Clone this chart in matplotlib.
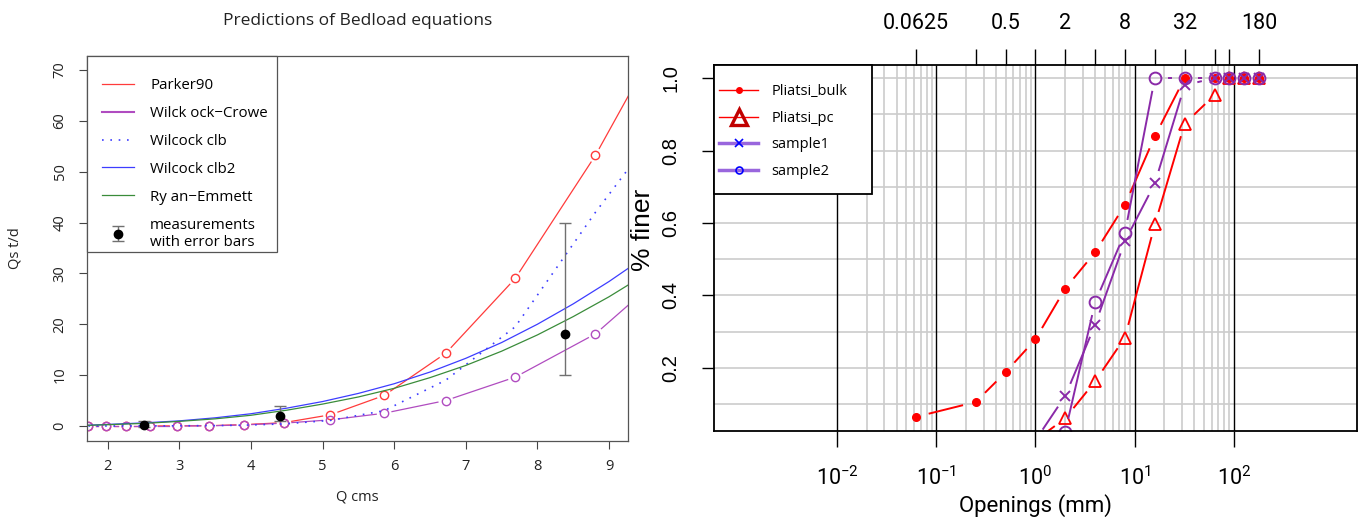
import numpy as np
import matplotlib
matplotlib.use("Agg")
import matplotlib.pyplot as plt
from matplotlib.lines import Line2D
from matplotlib.patches import Rectangle

plt.rcParams["font.family"] = ["Open Sans", "DejaVu Sans"]
plt.rcParams["mathtext.default"] = "regular"

# ---- left panel: bedload predictions ----
q_pts = [1.73, 1.98, 2.26, 2.59, 2.97, 3.41, 3.90, 4.46, 5.11, 5.86, 6.72, 7.69, 8.81, 10.1]
parker90 = [0, 0, 0, 0, 0.02, 0.05, 0.26, 0.65, 2.2, 6.0, 14.3, 29.0, 53.2, 86]
wilcock_crowe = [0, 0, 0, 0, 0, 0.02, 0.2, 0.55, 1.2, 2.5, 5.0, 9.6, 18.1, 34]
wilcock_clb = [0, 0, 0, 0.01, 0.03, 0.06, 0.15, 0.4, 1.1, 3.0, 9.0, 19.5, 42, 66]

q_fine = [1.73, 2.0, 2.5, 3.0, 3.5, 4.0, 4.5, 5.0, 5.5, 6.0, 6.5, 7.0, 7.5, 8.0, 8.5, 9.0, 9.3]
wilcock_clb2 = [0.15, 0.3, 0.6, 1.0, 1.6, 2.4, 3.5, 4.8, 6.4, 8.3, 10.6, 13.3, 16.4, 20.0, 24.0, 28.4, 31.3]
ryan_emmett = [0.12, 0.25, 0.5, 0.9, 1.4, 2.1, 3.1, 4.3, 5.7, 7.4, 9.5, 11.9, 14.7, 17.9, 21.5, 25.4, 28.0]

meas_q = [2.5, 4.4, 8.39]
meas_qs = [0.25, 2.0, 18.0]
meas_lo = [-0.3, 1.0, 10.0]
meas_hi = [1.0, 4.0, 40.0]

# ---- right panel: grain size distributions ----
sizes = [0.0625, 0.25, 0.5, 1, 2, 4, 8, 16, 32, 64, 90, 128, 180]
pliatsi_bulk = [0.065, 0.106, 0.188, 0.279, 0.419, 0.519, 0.650, 0.839, 1.0, 1.0, 1.0, 1.0, 1.0]
sizes_pc = [1, 2, 4, 8, 16, 32, 64, 90, 128, 180]
pliatsi_pc = [0.0, 0.061, 0.163, 0.284, 0.596, 0.874, 0.953, 1.0, 1.0, 1.0]
sizes_s1 = [1, 2, 4, 8, 16, 32, 64, 90, 128, 180]
sample1 = [0.0, 0.123, 0.319, 0.55, 0.709, 0.98, 1.0, 1.0, 1.0, 1.0]
sizes_s2 = [2, 4, 8, 16, 32, 64, 90, 128, 180]
sample2 = [0.024, 0.381, 0.573, 1.0, 1.0, 1.0, 1.0, 1.0, 1.0]

top_ticks = [0.0625, 0.25, 0.5, 1, 2, 4, 8, 16, 32, 64, 90, 180]
top_labels = ["0.0625", "", "0.5", "", "2", "", "8", "", "32", "", "", "180"]

RED = "#ff3b3b"
ORCHID = "#b04cc0"
BLUE = "#3d3dff"
GREEN = "#3a8c3a"
PURPLE = "#8a2aa8"
NARROW = ["Roboto", "DejaVu Sans"]
HELV = ["Liberation Sans", "DejaVu Sans"]


def gapped_line(ax, xs, ys, gap, **kw):
    """R type='b': line segments that stop short of each point."""
    pts = ax.transData.transform(np.column_stack([xs, ys]))
    inv = ax.transData.inverted()
    for (x0, y0), (x1, y1) in zip(pts[:-1], pts[1:]):
        d = np.hypot(x1 - x0, y1 - y0)
        if d <= 2 * gap:
            continue
        ux, uy = (x1 - x0) / d, (y1 - y0) / d
        seg = inv.transform([[x0 + ux * gap, y0 + uy * gap],
                             [x1 - ux * gap, y1 - uy * gap]])
        ax.plot(seg[:, 0], seg[:, 1], **kw)


W, H = 1363, 517
fig = plt.figure(figsize=(W / 100, H / 100), dpi=100)

# ================= left =================
L0, L1, T0, B0 = 87, 628, 55.7, 440.7
ax = fig.add_axes([L0 / W, 1 - B0 / H, (L1 - L0) / W, (B0 - T0) / H])
ax.set_xlim(1.71, 9.265)
ax.set_ylim(-2.9, 72.8)

gapped_line(ax, q_pts, parker90, 8, color=RED, lw=0.9)
ax.plot(q_pts, parker90, "o", ms=6, mfc="none", mec=RED, mew=1)
gapped_line(ax, q_pts, wilcock_crowe, 8, color=ORCHID, lw=0.9)
ax.plot(q_pts, wilcock_crowe, "o", ms=6, mfc="none", mec=ORCHID, mew=1)
ax.plot(q_pts, wilcock_clb, color=BLUE, lw=1.2, ls=(0, (1, 4)))
ax.plot(q_fine, wilcock_clb2, color=BLUE, lw=0.9)
ax.plot(q_fine, ryan_emmett, color=GREEN, lw=0.9)
yerr = [np.subtract(meas_qs, meas_lo), np.subtract(meas_hi, meas_qs)]
eb = ax.errorbar(meas_q, meas_qs, yerr=yerr, fmt="o", color="black", ms=6,
                 ecolor="#707070", elinewidth=1, capsize=4, capthick=1)

ax.set_xticks([2, 3, 4, 5, 6, 7, 8, 9])
ax.set_yticks([0, 10, 20, 30, 40, 50, 60, 70])
ax.tick_params(axis="both", labelsize=10.5, length=6, width=0.8, color="#444444",
               labelcolor="#222222")
ax.tick_params(axis="x", pad=7)
ax.tick_params(axis="y", pad=8, labelrotation=90)
for lbl in ax.get_yticklabels():
    lbl.set_va("center")
for s in ax.spines.values():
    s.set_color("#555555")
    s.set_linewidth(0.9)
ax.set_title("Predictions of Bedload equations", fontsize=12.5, pad=22, color="#222222")
ax.set_xlabel("Q cms", fontsize=10.5, color="#222222")
ax.xaxis.set_label_coords(0.5, -(497 - B0) / (B0 - T0))
ax.xaxis.label.set_va("center")
ax.set_ylabel("Qs t/d", fontsize=10.5, color="#222222")
ax.yaxis.set_label_coords((15 - L0) / (L1 - L0), 0.5)
ax.yaxis.label.set_va("center")

left_handles = [
    Line2D([], [], color=RED, lw=0.9),
    Line2D([], [], color=ORCHID, lw=1.5),
    Line2D([], [], color=BLUE, lw=1.2, ls=(0, (1, 4))),
    Line2D([], [], color=BLUE, lw=0.9),
    Line2D([], [], color=GREEN, lw=0.9),
    eb,
]
left_labels = ["Parker90", "Wilck ock\u2212Crowe", "Wilcock clb", "Wilcock clb2",
               "Ry an\u2212Emmett", "measurements\nwith error bars"]
ax.add_patch(Rectangle((0, 1 - (252 - T0) / (B0 - T0)), (277 - L0) / (L1 - L0),
                       (252 - T0) / (B0 - T0), transform=ax.transAxes, fc="white",
                       ec="#555555", lw=0.9, zorder=4.5, clip_on=False))
leg = ax.legend(left_handles, left_labels, loc="upper left",
                bbox_to_anchor=((102 - L0) / (L1 - L0), 1 - (78 - T0) / (B0 - T0)),
                borderaxespad=0, borderpad=0, fontsize=10.8, frameon=False,
                handlelength=2.1, labelspacing=0.86, handletextpad=1.1)
leg.set_zorder(5)

# ================= right =================
R0, R1, RT, RB = 713.5, 1357, 65, 431
bx = fig.add_axes([R0 / W, 1 - RB / H, (R1 - R0) / W, (RB - RT) / H])
bx.set_xscale("log")
bx.set_xlim(10 ** -3.246, 10 ** 3.243)
bx.set_ylim(0.026, 1.036)

for yv in np.arange(0.1, 1.01, 0.1):
    bx.axhline(yv, color="#cccccc", lw=1.2, zorder=0)
minor = [m * 10.0 ** k for k in range(-2, 2) for m in range(2, 10)]
bx.vlines(minor, 0, 1, transform=bx.get_xaxis_transform(), color="#cccccc", lw=1.2, zorder=0)
bx.vlines([1e-2, 1e-1, 1, 10, 100], 0, 1, transform=bx.get_xaxis_transform(),
          color="black", lw=1, zorder=0.5)

gapped_line(bx, sizes, pliatsi_bulk, 14, color="red", lw=1.4)
bx.plot(sizes, pliatsi_bulk, "o", ms=5.5, color="red", mec="red")
gapped_line(bx, sizes_pc, pliatsi_pc, 14, color="red", lw=1.4)
bx.plot(sizes_pc, pliatsi_pc, "^", ms=8.5, mfc="none", mec="red", mew=1.3)
gapped_line(bx, sizes_s1, sample1, 14, color=PURPLE, lw=1.4)
bx.plot(sizes_s1, sample1, "x", ms=7.5, color=PURPLE, mew=1.4)
gapped_line(bx, sizes_s2, sample2, 14, color=PURPLE, lw=1.4)
bx.plot(sizes_s2, sample2, "o", ms=8.5, mfc="none", mec=PURPLE, mew=1.4)

bx.set_xticks([1e-2, 1e-1, 1, 10, 100])
bx.xaxis.set_minor_locator(matplotlib.ticker.NullLocator())
bx.set_yticks([0.2, 0.4, 0.6, 0.8, 1.0])
bx.set_yticklabels(["0.2", "0.4", "0.6", "0.8", "1.0"])
bx.tick_params(axis="x", labelsize=15.5, length=11.5, width=1, pad=14)
bx.tick_params(axis="y", labelsize=14.5, length=9, width=1, pad=15, labelrotation=90)
for lbl in bx.get_xticklabels():
    lbl.set_family(NARROW)
for lbl in bx.get_yticklabels():
    lbl.set_va("center")
    lbl.set_family(HELV)
for s in bx.spines.values():
    s.set_linewidth(1.3)
bx.set_xlabel("Openings (mm)", fontsize=16, family=NARROW)
bx.xaxis.set_label_coords(0.5, -(506 - RB) / (RB - RT))
bx.xaxis.label.set_va("center")
bx.set_ylabel("% finer", fontsize=19, family=HELV)
bx.yaxis.set_label_coords((643 - R0) / (R1 - R0), (RB - 230) / (RB - RT))
bx.yaxis.label.set_va("center")

tx = bx.twiny()
tx.set_xscale("log")
tx.set_xlim(bx.get_xlim())
tx.set_xticks(top_ticks)
tx.set_xticklabels(top_labels)
tx.xaxis.set_minor_locator(matplotlib.ticker.NullLocator())
tx.tick_params(axis="x", labelsize=15.5, length=11.5, width=1, pad=11)
for lbl in tx.get_xticklabels():
    lbl.set_family(NARROW)
for s in tx.spines.values():
    s.set_visible(False)

right_handles = [
    Line2D([], [], color="red", lw=1, marker="o", ms=4),
    Line2D([], [], color="red", lw=1, marker="^", ms=11, mfc="none", mec="#c00000", mew=2.4),
    Line2D([], [], color="#9966dd", lw=2.5, marker="x", ms=6, mec="blue", mew=1.2),
    Line2D([], [], color="#9966dd", lw=2.5, marker="o", ms=5, mfc="none", mec="blue", mew=1.2),
]
right_labels = ["Pliatsi_bulk", "Pliatsi_pc", "sample1", "sample2"]
bx.add_patch(Rectangle((0, 1 - (194 - RT) / (RB - RT)), (872 - R0) / (R1 - R0),
                       (194 - RT) / (RB - RT), transform=bx.transAxes, fc="white",
                       ec="black", lw=1.3, zorder=4.5, clip_on=False))
leg2 = bx.legend(right_handles, right_labels, loc="upper left",
                 bbox_to_anchor=((719 - R0) / (R1 - R0), 1 - (84 - RT) / (RB - RT)),
                 borderaxespad=0, borderpad=0, fontsize=10.5, frameon=False,
                 handlelength=2.7, labelspacing=0.8, handletextpad=0.9)
leg2.set_zorder(5)

fig.savefig("out.png", dpi=100)
